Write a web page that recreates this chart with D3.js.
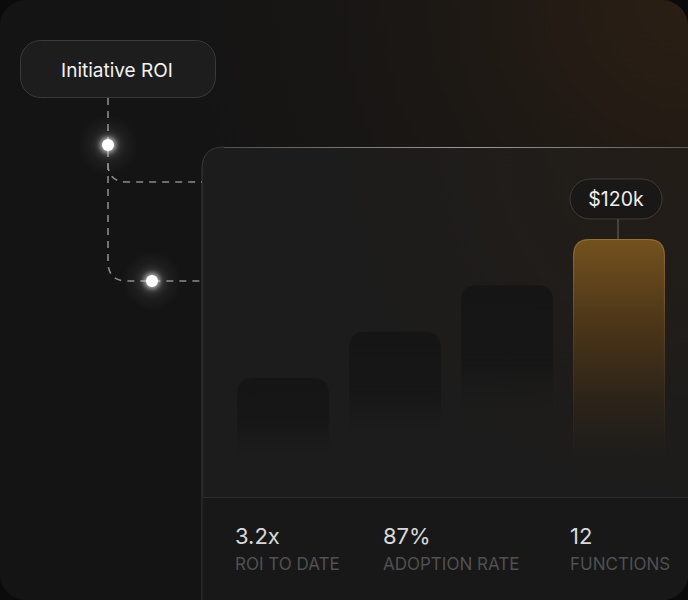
<!DOCTYPE html>
<html><head><meta charset="utf-8">
<script src="https://cdn.jsdelivr.net/npm/d3@7"></script>
<style>html,body{margin:0;padding:0;background:#0b0b0b;}svg{display:block;}</style>
</head><body>
<script>
const categories = ["Q1", "Q2", "Q3", "Q4"];
const values = [60, 80, 100, 120];           // $k
const highlightLabel = "$120k";
const title = "Initiative ROI";
const statValues = ["3.2x", "87%", "12"];
const statLabels = ["ROI TO DATE", "ADOPTION RATE", "FUNCTIONS"];

const W = 688, H = 600;
const FONT = "Inter, 'Noto Sans', sans-serif";
const svg = d3.select("body").append("svg").attr("width", W).attr("height", H);
const defs = svg.append("defs");

defs.append("clipPath").attr("id", "frame").append("rect")
  .attr("width", W).attr("height", H).attr("rx", 26);

const warm = defs.append("radialGradient").attr("id", "warm")
  .attr("cx", 688).attr("cy", 0).attr("r", 520).attr("gradientUnits", "userSpaceOnUse");
warm.append("stop").attr("offset", 0).attr("stop-color", "#2b1f14");
warm.append("stop").attr("offset", 0.55).attr("stop-color", "#1a1714");
warm.append("stop").attr("offset", 1).attr("stop-color", "#141414");

const cardGrad = defs.append("radialGradient").attr("id", "cardGlow")
  .attr("cx", 688).attr("cy", 147).attr("r", 380).attr("gradientUnits", "userSpaceOnUse");
cardGrad.append("stop").attr("offset", 0).attr("stop-color", "#231d17");
cardGrad.append("stop").attr("offset", 1).attr("stop-color", "#1c1c1c");

const topLine = defs.append("linearGradient").attr("id", "topLine")
  .attr("x1", 202).attr("x2", 688).attr("y1", 0).attr("y2", 0).attr("gradientUnits", "userSpaceOnUse");
topLine.append("stop").attr("offset", 0).attr("stop-color", "#4a4a4a");
topLine.append("stop").attr("offset", 0.55).attr("stop-color", "#9a9a9a");
topLine.append("stop").attr("offset", 1).attr("stop-color", "#5a5a5a");

const darkBar = defs.append("linearGradient").attr("id", "darkBar").attr("x1", 0).attr("x2", 0).attr("y1", 0).attr("y2", 1);
darkBar.append("stop").attr("offset", 0).attr("stop-color", "#151515").attr("stop-opacity", 1);
darkBar.append("stop").attr("offset", 0.35).attr("stop-color", "#161616").attr("stop-opacity", 0.9);
darkBar.append("stop").attr("offset", 0.6).attr("stop-color", "#1b1b1b").attr("stop-opacity", 0);

const goldBar = defs.append("linearGradient").attr("id", "goldBar").attr("x1", 0).attr("x2", 0).attr("y1", 0).attr("y2", 1);
goldBar.append("stop").attr("offset", 0).attr("stop-color", "#74521f");
goldBar.append("stop").attr("offset", 0.3).attr("stop-color", "#4c3618");
goldBar.append("stop").attr("offset", 0.55).attr("stop-color", "#2f2519");
goldBar.append("stop").attr("offset", 0.8).attr("stop-color", "#1d1c1a").attr("stop-opacity", 0.6);
goldBar.append("stop").attr("offset", 1).attr("stop-color", "#1c1c1c").attr("stop-opacity", 0);

const goldEdge = defs.append("linearGradient").attr("id", "goldEdge").attr("x1", 0).attr("x2", 0).attr("y1", 0).attr("y2", 1);
goldEdge.append("stop").attr("offset", 0).attr("stop-color", "#a47c3c").attr("stop-opacity", 0.7);
goldEdge.append("stop").attr("offset", 0.5).attr("stop-color", "#8a6630").attr("stop-opacity", 0.25);
goldEdge.append("stop").attr("offset", 1).attr("stop-color", "#8a6630").attr("stop-opacity", 0);

const glow = defs.append("radialGradient").attr("id", "dotGlow");
glow.append("stop").attr("offset", 0).attr("stop-color", "#ffffff").attr("stop-opacity", 0.5);
glow.append("stop").attr("offset", 0.25).attr("stop-color", "#ffffff").attr("stop-opacity", 0.14);
glow.append("stop").attr("offset", 0.6).attr("stop-color", "#ffffff").attr("stop-opacity", 0.04);
glow.append("stop").attr("offset", 1).attr("stop-color", "#ffffff").attr("stop-opacity", 0);

defs.append("filter").attr("id", "blur").attr("x", "-100%").attr("y", "-100%").attr("width", "300%").attr("height", "300%")
  .append("feGaussianBlur").attr("stdDeviation", 2.5);

const g = svg.append("g").attr("clip-path", "url(#frame)");
g.append("rect").attr("width", W).attr("height", H).attr("fill", "url(#warm)");

// Card
const cx0 = 202, cy0 = 147, cr = 22;
const cardPath = `M${cx0},${H + 10} L${cx0},${cy0 + cr} Q${cx0},${cy0} ${cx0 + cr},${cy0} L${W + 10},${cy0} L${W + 10},${H + 10} Z`;
g.append("path").attr("d", cardPath).attr("fill", "url(#cardGlow)");
g.append("path").attr("d", `M${cx0},${H + 10} L${cx0},${cy0 + cr} Q${cx0},${cy0} ${cx0 + cr},${cy0}`)
  .attr("fill", "none").attr("stroke", "#3a3a3a").attr("stroke-width", 1);
g.append("line").attr("x1", cx0 + cr).attr("x2", W).attr("y1", cy0 + 0.5).attr("y2", cy0 + 0.5)
  .attr("stroke", "url(#topLine)").attr("stroke-width", 1.2);

// Scales
const x = d3.scaleBand().domain(categories).range([227, 675]).paddingInner(0.18).paddingOuter(0.09);
const y = d3.scaleLinear().domain([0, 120]).range([517, 239]);
const last = categories[categories.length - 1];

const barPath = (c, i) => {
  const x0 = x(c), w = x.bandwidth(), t = y(values[i]), b = y(0), r = 16;
  return `M${x0},${b} L${x0},${t + r} Q${x0},${t} ${x0 + r},${t} L${x0 + w - r},${t} Q${x0 + w},${t} ${x0 + w},${t + r} L${x0 + w},${b} Z`;
};
const bars = g.append("g");
bars.selectAll("path").data(categories).join("path")
  .attr("d", barPath)
  .attr("fill", c => c === last ? "url(#goldBar)" : "url(#darkBar)");
// gold edge highlight, fading downward
const li = categories.length - 1;
bars.append("path")
  .attr("d", () => {
    const x0 = x(last) + 0.5, w = x.bandwidth() - 1, t = y(values[li]) + 0.5, r = 16, b = y(0) - 60;
    return `M${x0},${b} L${x0},${t + r} Q${x0},${t} ${x0 + r},${t} L${x0 + w - r},${t} Q${x0 + w},${t} ${x0 + w},${t + r} L${x0 + w},${b}`;
  })
  .attr("fill", "none").attr("stroke", "url(#goldEdge)").attr("stroke-width", 1);

// value label
const lx = x(last) + x.bandwidth() / 2 - 3;
const ly = y(values[li]);
g.append("line").attr("x1", lx + 2).attr("x2", lx + 2).attr("y1", ly - 20).attr("y2", ly).attr("stroke", "#6a6a6a").attr("stroke-width", 1);
g.append("rect").attr("x", lx - 46).attr("y", ly - 60).attr("width", 92).attr("height", 40).attr("rx", 20)
  .attr("fill", "#1a1816").attr("stroke", "#3e3c3a").attr("stroke-width", 1);
g.append("text").attr("x", lx).attr("y", ly - 33).attr("text-anchor", "middle")
  .attr("font-family", FONT).attr("font-size", 19.5).attr("fill", "#eeeeee").text(highlightLabel);

// Stats area
g.append("rect").attr("x", cx0 + 0.5).attr("y", 497).attr("width", W).attr("height", 110).attr("fill", "#181818");
g.append("line").attr("x1", cx0).attr("x2", W).attr("y1", 497.5).attr("y2", 497.5).attr("stroke", "#2c2c2c");
const statX = [235, 383, 570];
statValues.forEach((v, i) => {
  g.append("text").attr("x", statX[i]).attr("y", 544).attr("font-family", FONT).attr("font-size", 22)
    .attr("fill", "#d8d8d8").text(v);
  g.append("text").attr("x", statX[i]).attr("y", 569.5).attr("font-family", FONT).attr("font-size", 17)
    .attr("fill", "#505050").text(statLabels[i]);
});

// Connectors
const dash = g.append("g").attr("fill", "none").attr("stroke", "#8a8a8a").attr("stroke-width", 1.6).attr("stroke-dasharray", "7,6");
dash.append("path").attr("d", "M108,98 L108,262 Q108,281 127,281 L202,281");
dash.append("path").attr("d", "M108,164 Q108,182 127,182 L202,182");

// Title pill
g.append("rect").attr("x", 20.5).attr("y", 40.5).attr("width", 195).attr("height", 57).attr("rx", 20)
  .attr("fill", "#1d1d1d").attr("stroke", "#3a3a3a").attr("stroke-width", 1);
g.append("text").attr("x", 117).attr("y", 76.5).attr("text-anchor", "middle")
  .attr("font-family", FONT).attr("font-size", 19).attr("fill", "#f2f2f2").text(title);

// Dots
[[108, 145], [152, 281]].forEach(([px, py]) => {
  g.append("circle").attr("cx", px).attr("cy", py).attr("r", 30).attr("fill", "url(#dotGlow)");
  g.append("circle").attr("cx", px).attr("cy", py).attr("r", 8).attr("fill", "#ffffff").attr("opacity", 0.6).attr("filter", "url(#blur)");
  g.append("circle").attr("cx", px).attr("cy", py).attr("r", 6).attr("fill", "#ffffff");
});
</script>
</body></html>
